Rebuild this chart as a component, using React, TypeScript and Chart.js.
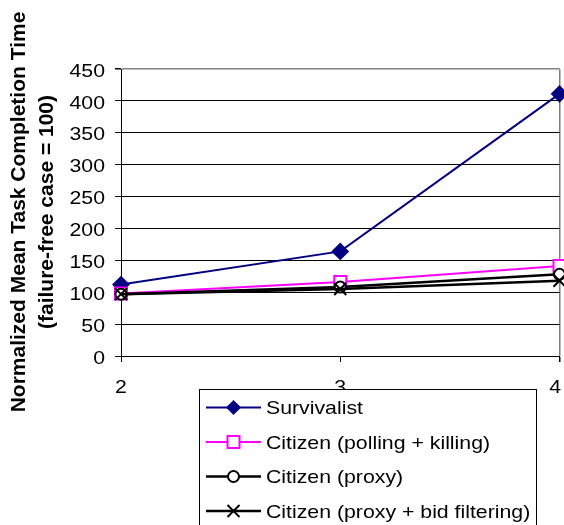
import React, { useEffect, useRef } from "react";
import { Chart, registerables } from "chart.js";

Chart.register(...registerables);

// ---- data ----
const xValues = [2, 3, 4];
const survivalist = [112, 164, 411];
const pollingKilling = [98, 116, 141];
const proxy = [97, 108, 128];
const proxyBid = [97, 105, 118];
const seriesNames = [
  "Survivalist",
  "Citizen (polling + killing)",
  "Citizen (proxy)",
  "Citizen (proxy + bid filtering)",
];
const yTitle = ["Normalized Mean Task Completion Time", "(failure-free case = 100)"];
const yMin = 0;
const yMax = 450;
const yStep = 50;
const xMin = 2;
const xMax = 4;

const FONT = '"Liberation Sans", Arial, Helvetica, sans-serif';
const STRETCH = 1.15;
const LABEL_SIZE = 18.5;

type Marker = "diamond" | "square" | "circle" | "cross";
const seriesStyle: { color: string; width: number; marker: Marker; fill: string }[] = [
  { color: "#000080", width: 2, marker: "diamond", fill: "#000080" },
  { color: "#FF00FF", width: 2, marker: "square", fill: "#FFFFFF" },
  { color: "#000000", width: 2.5, marker: "circle", fill: "#FFFFFF" },
  { color: "#000000", width: 2.5, marker: "cross", fill: "#FFFFFF" },
];

function drawMarker(ctx: CanvasRenderingContext2D, m: Marker, x: number, y: number, color: string, fill: string) {
  ctx.save();
  ctx.strokeStyle = color;
  ctx.fillStyle = fill;
  ctx.lineWidth = 2;
  ctx.beginPath();
  if (m === "diamond") {
    const r = 7.5;
    ctx.moveTo(x - r, y);
    ctx.lineTo(x, y - r);
    ctx.lineTo(x + r, y);
    ctx.lineTo(x, y + r);
    ctx.closePath();
    ctx.fill();
  } else if (m === "square") {
    const s = 6;
    ctx.rect(x - s, y - s, 2 * s, 2 * s);
    ctx.fill();
    ctx.stroke();
  } else if (m === "circle") {
    ctx.arc(x, y, 5.5, 0, Math.PI * 2);
    ctx.fill();
    ctx.stroke();
  } else {
    const s = 6;
    ctx.moveTo(x - s, y - s);
    ctx.lineTo(x + s, y + s);
    ctx.moveTo(x + s, y - s);
    ctx.lineTo(x - s, y + s);
    ctx.stroke();
  }
  ctx.restore();
}

const customDraw = {
  id: "customDraw",
  afterDraw(chart: any) {
    const ctx: CanvasRenderingContext2D = chart.ctx;
    const ys = chart.scales.y;
    const xs = chart.scales.x;
    ctx.save();
    ctx.fillStyle = "#000";
    ctx.font = `${LABEL_SIZE}px ${FONT}`;
    ctx.textBaseline = "alphabetic";
    const capHalf = (0.716 * LABEL_SIZE) / 2;

    // y tick labels
    ys.ticks.forEach((t: any) => {
      const py = ys.getPixelForValue(t.value);
      ctx.save();
      ctx.translate(105, py + 1 + capHalf);
      ctx.scale(STRETCH, 1);
      ctx.textAlign = "right";
      ctx.fillText(String(t.value), 0, 0);
      ctx.restore();
    });

    // x tick labels
    xs.ticks.forEach((t: any) => {
      const label = String(t.value);
      let px = xs.getPixelForValue(t.value);
      const w = ctx.measureText(label).width * STRETCH;
      px = Math.min(px, chart.width - w / 2 - 3);
      ctx.save();
      ctx.translate(px, 393);
      ctx.scale(STRETCH, 1);
      ctx.textAlign = "center";
      ctx.fillText(label, 0, 0);
      ctx.restore();
    });

    // y axis title (two lines)
    ctx.font = `bold 21px ${FONT}`;
    const cy = 212;
    const baselines = [25, 53];
    yTitle.forEach((txt, i) => {
      ctx.save();
      ctx.translate(baselines[i], cy);
      ctx.rotate(-Math.PI / 2);
      ctx.textAlign = "center";
      ctx.fillText(txt, 0, 0);
      ctx.restore();
    });

    // legend
    const L = { left: 199.5, top: 389.5, right: 536.5, bottom: 530 };
    ctx.fillStyle = "#FFFFFF";
    ctx.fillRect(L.left, L.top, L.right - L.left, L.bottom - L.top);
    ctx.strokeStyle = "#000";
    ctx.lineWidth = 1;
    ctx.strokeRect(L.left, L.top, L.right - L.left, L.bottom - L.top);
    const rows = [407.5, 442, 476.5, 511];
    ctx.font = `${LABEL_SIZE}px ${FONT}`;
    seriesNames.forEach((name, i) => {
      const st = seriesStyle[i];
      const y = rows[i];
      ctx.save();
      ctx.strokeStyle = st.color;
      ctx.lineWidth = st.width;
      ctx.beginPath();
      ctx.moveTo(206, y);
      ctx.lineTo(261, y);
      ctx.stroke();
      ctx.restore();
      drawMarker(ctx, st.marker, 233.5, y, st.color, st.fill);
      ctx.save();
      ctx.fillStyle = "#000";
      ctx.translate(266, y + capHalf);
      ctx.scale(STRETCH, 1);
      ctx.textAlign = "left";
      ctx.fillText(name, 0, 0);
      ctx.restore();
    });
    ctx.restore();
  },
};

export default function App() {
  const canvasRef = useRef<HTMLCanvasElement | null>(null);

  useEffect(() => {
    if (!canvasRef.current) return;
    const allSeries = [survivalist, pollingKilling, proxy, proxyBid];
    const pointStyles = ["rectRot", "rect", "circle", "crossRot"];
    const radii = [7.5, 8.5, 5.5, 8.5];
    const datasets = allSeries.map((vals, i) => ({
      label: seriesNames[i],
      data: xValues.map((x, j) => ({ x, y: vals[j] })),
      borderColor: seriesStyle[i].color,
      backgroundColor: seriesStyle[i].fill,
      borderWidth: seriesStyle[i].width,
      pointStyle: pointStyles[i],
      pointRadius: radii[i],
      pointBorderWidth: 2,
      pointBorderColor: seriesStyle[i].color,
      pointBackgroundColor: seriesStyle[i].fill,
      tension: 0,
      clip: false,
      order: 3 - i,
    }));

    const chart = new Chart(canvasRef.current, {
      type: "line",
      data: { datasets } as any,
      options: {
        animation: false,
        responsive: true,
        maintainAspectRatio: false,
        layout: { autoPadding: false, padding: { top: 69, right: 4.5, left: 0, bottom: 0 } },
        plugins: { legend: { display: false }, tooltip: { enabled: false } },
        scales: {
          x: {
            type: "linear",
            min: xMin,
            max: xMax,
            ticks: { stepSize: 1, display: false },
            grid: {
              color: (c: any) => (c.tick && c.tick.value === xMax ? "#808080" : "rgba(0,0,0,0)"),
              lineWidth: (c: any) => (c.tick && c.tick.value === xMax ? 1.5 : 1),
              tickColor: "#000",
              tickLength: 6,
              drawTicks: true,
            },
            border: { color: "#000", width: 1 },
            afterFit: (s: any) => {
              s.height = 169;
            },
          },
          y: {
            min: yMin,
            max: yMax,
            ticks: { stepSize: yStep, display: false },
            grid: {
              color: (c: any) => (c.tick && c.tick.value === yMax ? "#808080" : "#000"),
              lineWidth: (c: any) => (c.tick && c.tick.value === yMax ? 1.5 : 1),
              tickColor: "#000",
              tickLength: 6,
              drawTicks: true,
            },
            border: { color: "#000", width: 1 },
            afterFit: (s: any) => {
              s.width = 121;
            },
          },
        },
      } as any,
      plugins: [customDraw],
    });
    return () => chart.destroy();
  }, []);

  return (
    <div style={{ position: "absolute", left: 0, top: 0, width: 564, height: 525, background: "#fff" }}>
      <canvas ref={canvasRef} />
    </div>
  );
}
